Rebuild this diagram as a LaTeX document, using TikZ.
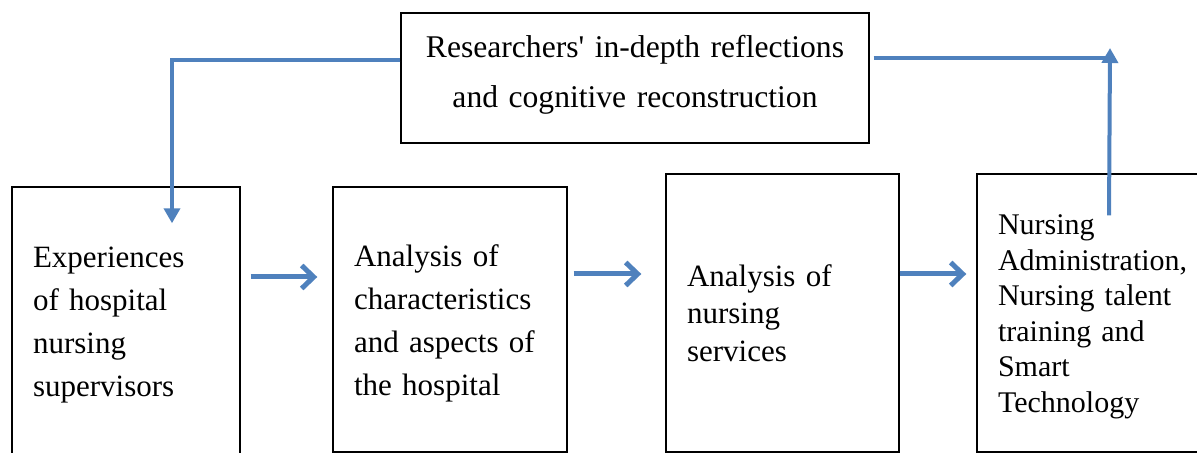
\documentclass[tikz,border=0pt]{standalone}
\usepackage{fontspec}
\setmainfont{Liberation Serif}
\usepackage{xcolor}
\usepackage{tikz}
\usetikzlibrary{arrows.meta,positioning,calc}
\definecolor{flowblue}{RGB}{79, 129, 189}

\begin{document}
\begin{tikzpicture}[
    x=0.5pt, y=-0.5pt,
    box/.style={rectangle, draw, line width=0.7pt, inner xsep=10.5pt, inner ysep=0pt, align=left, font=\fontsize{15.5}{21.5}\selectfont},
    topbox/.style={box, align=center, text width=213pt, minimum height=65pt, font=\fontsize{15.8}{25}\selectfont},
    textlift/.style={execute at end node={\endgraf\vspace*{#1}}},
    flow/.style={-{Straight Barb[length=6pt, width=11.5pt]}, flowblue, line width=2.5pt},
    feedback/.style={flowblue, line width=2pt},
    feedtip/.style={feedback, -{Triangle[length=7.5pt, width=8pt]}}
]
\useasboundingbox (0,0) rectangle (1197,453);

% Reflection box (top)
\node[topbox, textlift=3pt] (reflect) at (635,78) {Researchers\textquotesingle{} in-depth reflections\\and cognitive reconstruction};

% Row of four steps
\node[box, text width=93pt, minimum height=133.5pt, textlift=-5pt] (step1) at (126,320.5) {Experiences\\of hospital\\nursing\\supervisors};
\node[box, text width=96pt, minimum height=132.5pt, textlift=-4pt] (step2) at (450,319.5) {Analysis of\\characteristics\\and aspects of\\the hospital};
\node[box, text width=95.5pt, minimum height=139pt, font=\fontsize{15.5}{18.75}\selectfont] (step3) at (782.5,313) {Analysis of\\nursing\\services};
\node[box, text width=98pt, minimum height=139pt, font=\fontsize{15}{17.75}\selectfont, textlift=-4pt] (step4) at (1096,313) {Nursing\\Administration,\\Nursing talent\\training and\\Smart\\Technology};

% Forward arrows between steps
\draw[flow] ([xshift=5pt, yshift=21.75pt]step1.east) -- ([xshift=-7.5pt, yshift=21.25pt]step2.west);
\draw[flow] ([xshift=3pt, yshift=22.75pt]step2.east) -- ([xshift=-12pt, yshift=19.5pt]step3.west);
\draw[flow] ([yshift=19.5pt]step3.east) -- ([xshift=-5pt, yshift=19.5pt]step4.west);

% Feedback loop through the reflection box
\coordinate (fbl) at (172,60);
\coordinate (fbr) at (1110,58);
\draw[feedtip] ([yshift=9pt]reflect.west) -- (fbl) -- ([xshift=23pt, yshift=-18.5pt]step1.north);
\draw[feedback] ([xshift=2pt, yshift=10pt]reflect.east) -- (fbr);
\draw[feedtip] ([xshift=6.5pt, yshift=-21pt]step4.north) -- ([yshift=5pt]fbr);

\end{tikzpicture}
\end{document}
